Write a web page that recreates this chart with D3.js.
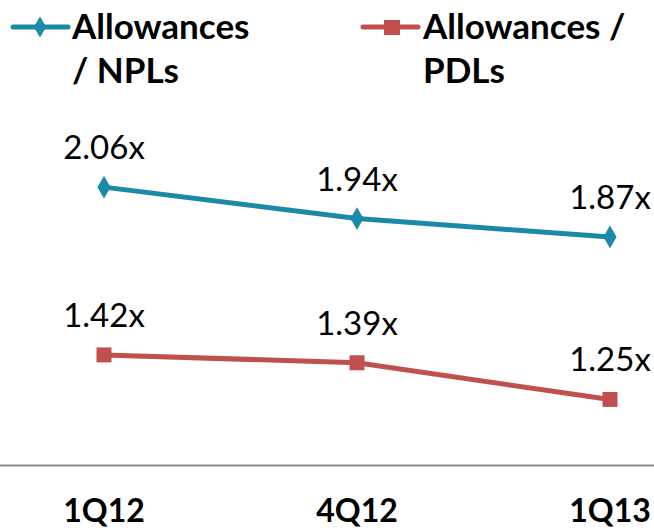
<!DOCTYPE html>
<html><head><meta charset="utf-8">
<script src="https://cdn.jsdelivr.net/npm/d3@7"></script>
<style>body{margin:0;background:#fff}svg{display:block}</style>
</head><body>
<svg id="c" width="654" height="530"></svg>
<script>
const categories = ["1Q12", "4Q12", "1Q13"];
const npl = [2.06, 1.94, 1.87];
const pdl = [1.42, 1.39, 1.25];
const seriesNames = [["Allowances", "/ NPLs"], ["Allowances /", "PDLs"]];
const colors = ["#1A8AA6", "#C0504D"];

const svg = d3.select("#c");
const font = "Lato, 'Open Sans', sans-serif";
const x = d3.scalePoint().domain(categories).range([104, 610]);
const y = d3.scaleLinear().domain([1.0, 2.4]).range([465, 98]);

// axis line
svg.append("line").attr("x1", 0).attr("x2", 654).attr("y1", 465.5).attr("y2", 465.5)
  .attr("stroke", "#8c8c8c").attr("stroke-width", 2);
categories.forEach(c => {
  svg.append("text").attr("x", x(c)).attr("y", 522).attr("text-anchor", "middle")
    .attr("font-family", font).attr("font-weight", "bold").attr("font-size", 32).attr("fill", "#000").text(c);
});

const line = d3.line().x((d, i) => x(categories[i])).y(d => y(d));
[npl, pdl].forEach((s, k) => {
  svg.append("path").attr("d", line(s)).attr("fill", "none").attr("stroke", colors[k]).attr("stroke-width", 5);
  s.forEach((v, i) => {
    const cx = x(categories[i]), cy = y(v);
    if (k === 0) {
      svg.append("path").attr("d", d3.symbol(d3.symbolDiamond, 150)()).attr("transform", `translate(${cx},${cy})`).attr("fill", colors[k]);
    } else {
      svg.append("rect").attr("x", cx - 7.5).attr("y", cy - 7.5).attr("width", 15).attr("height", 15).attr("fill", colors[k]);
    }
    svg.append("text").attr("x", cx).attr("y", cy - 28).attr("text-anchor", "middle")
      .attr("font-family", font).attr("font-size", 33).attr("fill", "#000").text(v.toFixed(2) + "x");
  });
});

// legend
const lg = [{x0: 13, tx: 72}, {x0: 363, tx: 423}];
lg.forEach((L, k) => {
  svg.append("line").attr("x1", L.x0).attr("x2", L.x0 + 55).attr("y1", 27).attr("y2", 27)
    .attr("stroke", colors[k]).attr("stroke-width", 5).attr("stroke-linecap", "round");
  if (k === 0) svg.append("path").attr("d", d3.symbol(d3.symbolDiamond, 130)()).attr("transform", `translate(${L.x0 + 27},27)`).attr("fill", colors[k]);
  else svg.append("rect").attr("x", L.x0 + 21).attr("y", 20).attr("width", 16).attr("height", 15).attr("fill", colors[k]);
  seriesNames[k].forEach((t, j) => {
    svg.append("text").attr("x", L.tx).attr("y", 39 + j * 44).attr("font-family", font).attr("font-weight", "bold")
      .attr("font-size", 35).attr("fill", "#000").text(t);
  });
});
</script>
</body></html>
